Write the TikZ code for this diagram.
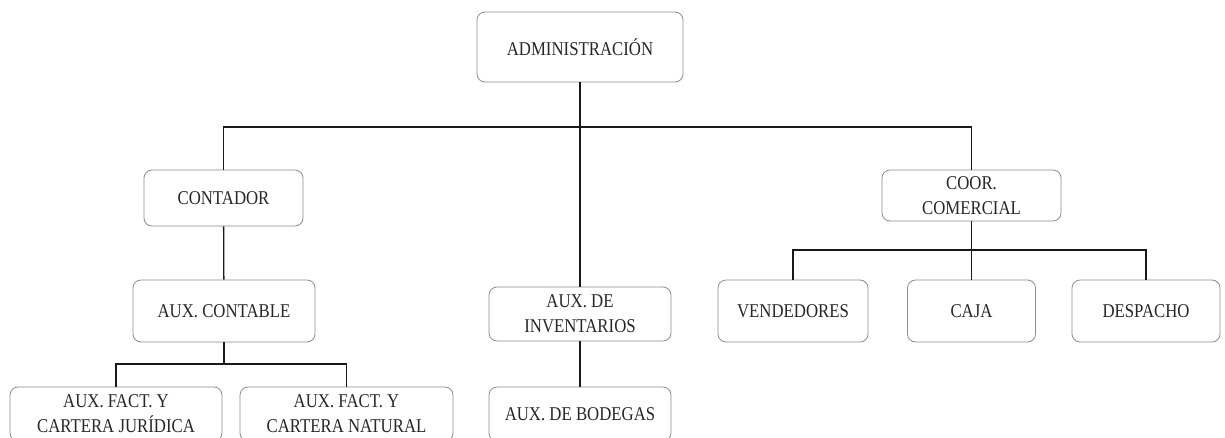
\documentclass[tikz,border=0pt]{standalone}
\usepackage{fontspec}
\setmainfont{Liberation Serif}[FakeStretch=0.86]
\begin{document}
\begin{tikzpicture}[x=1pt,y=-1pt,
  orgbox/.style={draw=black!45, rounded corners=8pt, line width=0.8pt, align=center,
    inner sep=0pt, text=black!85, font=\fontsize{19.5}{25}\selectfont},
  link/.style={draw=black!90, line width=1.3pt}]
\useasboundingbox (0,0) rectangle (1225,437);
\clip (0,0) rectangle (1225,437);
\node[orgbox, minimum width=206pt, minimum height=70pt] (adm) at (580,47) {ADMINISTRACIÓN};
\node[orgbox, minimum width=159pt, minimum height=56pt] (cont) at (223.5,198) {CONTADOR};
\node[orgbox, minimum width=182pt, minimum height=62pt] (auxc) at (224,311) {AUX. CONTABLE};
\node[orgbox, minimum width=182pt, minimum height=54pt] (inv) at (580,314) {AUX. DE\\INVENTARIOS};
\node[orgbox, minimum width=179pt, minimum height=51pt] (coor) at (971.5,195.5) {COOR.\\COMERCIAL};
\node[orgbox, minimum width=150pt, minimum height=62pt] (vend) at (793,311) {VENDEDORES};
\node[orgbox, minimum width=128pt, minimum height=62pt] (caja) at (971.5,311) {CAJA};
\node[orgbox, minimum width=148pt, minimum height=62pt] (desp) at (1146,311) {DESPACHO};
\node[orgbox, minimum width=212pt, minimum height=54pt] (jur) at (116,414) {AUX. FACT. Y\\CARTERA JURÍDICA};
\node[orgbox, minimum width=213pt, minimum height=54pt] (nat) at (346.5,414) {AUX. FACT. Y\\CARTERA NATURAL};
\node[orgbox, minimum width=182pt, minimum height=54pt] (bod) at (580,414) {AUX. DE BODEGAS};
\coordinate (j1) at (580,127);
\coordinate (j2) at (224,364);
\coordinate (j3) at (971.5,250);
\draw[link] (adm) -- (inv);
\draw[link] (cont.north) |- (j1) -| (coor.north);
\draw[link] (cont) -- (auxc);
\draw[link] (auxc) -- (j2);
\draw[link] (jur.north) |- (j2) -| (nat.north);
\draw[link] (inv) -- (bod);
\draw[link] (coor) -- (caja);
\draw[link] (vend.north) |- (j3) -| (desp.north);
\end{tikzpicture}
\end{document}
